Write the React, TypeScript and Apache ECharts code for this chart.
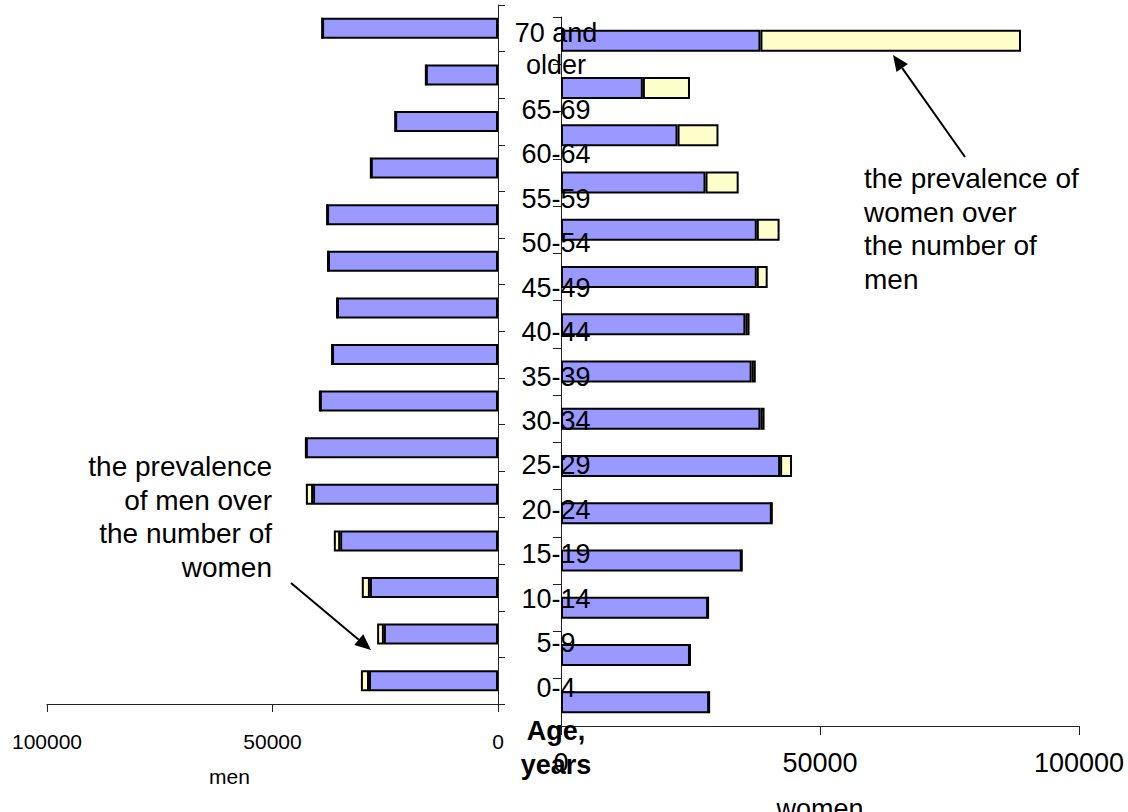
import React, { useEffect, useRef } from "react";
import * as echarts from "echarts";

// Age groups, bottom (youngest) to top (oldest)
const ageGroups = [
  "0-4", "5-9", "10-14", "15-19", "20-24", "25-29", "30-34", "35-39",
  "40-44", "45-49", "50-54", "55-59", "60-64", "65-69", "70 and\nolder",
];

// Men: part shared with women (blue) and the excess of men over women (cream)
const menCommon = [28600, 25300, 28400, 35000, 41000, 42600, 39500, 36800, 35700, 37700, 37900, 28200, 22800, 16000, 39000];
const menExcess = [1800, 1500, 1800, 1400, 1600, 0, 0, 0, 0, 0, 0, 0, 0, 0, 0];

// Women: part shared with men (blue) and the excess of women over men (cream)
const womenCommon = [28600, 24900, 28400, 34900, 40700, 42300, 38500, 36800, 35600, 37800, 37800, 27900, 22500, 15800, 38500];
const womenExcess = [0, 0, 0, 0, 0, 2300, 800, 800, 800, 2100, 4400, 6400, 7900, 9100, 50300];

// Value axis ticks
const axisMin = 0;
const axisMax = 100000;
const axisStep = 50000;

const menLabel = "men";
const womenLabel = "women";
const ageTitle = "Age,\nyears";
const noteMen = "the prevalence\nof men over\nthe number of\nwomen";
const noteWomen = "the prevalence of\nwomen over\nthe number of\nmen";

export default function App() {
  const ref = useRef<HTMLDivElement>(null);

  useEffect(() => {
    if (!ref.current) return;
    const chart = echarts.init(ref.current, null, { renderer: "svg" });
    const font = "'Liberation Sans', Arial, Helvetica, sans-serif";
    const blue = "#9999FF";
    const cream = "#FFFFCC";
    const lineCol = "#222";
    const plain = (v: number) => String(v);

    const barSeries = (
      name: string,
      data: number[],
      color: string,
      axis: number,
      stack: string,
      barWidth: number
    ) => ({
      name,
      type: "bar",
      xAxisIndex: axis,
      yAxisIndex: axis,
      stack,
      barWidth,
      data,
      itemStyle: { color, borderColor: "#000", borderWidth: 2 },
      z: 2,
    });

    // arrow helper: line from (x1,y1) to tip (x2,y2)
    const arrow = (x1: number, y1: number, x2: number, y2: number) => {
      const dx = x2 - x1;
      const dy = y2 - y1;
      const len = Math.sqrt(dx * dx + dy * dy);
      const ux = dx / len;
      const uy = dy / len;
      const hl = 16;
      const hw = 7;
      const bx = x2 - hl * ux;
      const by = y2 - hl * uy;
      const nx = -uy;
      const ny = ux;
      return [
        {
          type: "line",
          z: 100,
          shape: { x1, y1, x2: bx, y2: by },
          style: { stroke: "#000", lineWidth: 2 },
        },
        {
          type: "polygon",
          z: 100,
          shape: {
            points: [
              [x2, y2],
              [bx + hw * nx, by + hw * ny],
              [bx - hw * nx, by - hw * ny],
            ],
          },
          style: { fill: "#000" },
        },
      ];
    };

    chart.setOption({
      animation: false,
      backgroundColor: "#ffffff",
      textStyle: { fontFamily: font, color: "#000" },
      grid: [
        { left: 47, top: 5, width: 451, height: 699, containLabel: false, outerBoundsMode: "none" },
        { left: 561, top: 17, width: 518, height: 709, containLabel: false, outerBoundsMode: "none" },
        { left: 556, top: 43, width: 1, height: 667, containLabel: false, outerBoundsMode: "none" },
      ],
      xAxis: [
        {
          gridIndex: 0,
          type: "value",
          inverse: true,
          min: axisMin,
          max: axisMax,
          interval: axisStep,
          axisLine: { show: true, onZero: false, lineStyle: { color: lineCol, width: 1 } },
          axisTick: { show: true, length: 8, lineStyle: { color: lineCol } },
          splitLine: { show: false },
          axisLabel: { fontSize: 21, color: "#000", margin: 27, fontFamily: font, formatter: plain },
          name: menLabel,
          nameLocation: "middle",
          nameGap: 62,
          nameTextStyle: { fontSize: 21, color: "#000", fontFamily: font, padding: [0, 86, 0, 0] },
        },
        {
          gridIndex: 1,
          type: "value",
          min: axisMin,
          max: axisMax,
          interval: axisStep,
          axisLine: { show: true, onZero: false, lineStyle: { color: lineCol, width: 1 } },
          axisTick: { show: true, length: 9, lineStyle: { color: lineCol } },
          splitLine: { show: false },
          axisLabel: { fontSize: 27, color: "#000", margin: 23, fontFamily: font, formatter: plain },
          name: womenLabel,
          nameLocation: "middle",
          nameGap: 69,
          nameTextStyle: { fontSize: 27, color: "#000", fontFamily: font },
        },
        { gridIndex: 2, type: "value", show: false, min: 0, max: 1 },
      ],
      yAxis: [
        {
          gridIndex: 0,
          type: "category",
          data: ageGroups,
          position: "right",
          axisLine: { show: true, onZero: false, lineStyle: { color: lineCol, width: 1 } },
          axisTick: { show: true, length: 7, interval: 0, lineStyle: { color: lineCol } },
          axisLabel: { show: false },
          splitLine: { show: false },
        },
        {
          gridIndex: 1,
          type: "category",
          data: ageGroups,
          position: "left",
          axisLine: { show: true, onZero: false, lineStyle: { color: lineCol, width: 1 } },
          axisTick: { show: true, length: 8, interval: 0, lineStyle: { color: lineCol } },
          axisLabel: { show: false },
          splitLine: { show: false },
        },
        {
          gridIndex: 2,
          type: "category",
          data: ageGroups,
          position: "left",
          z: 10,
          axisLine: { show: false },
          axisTick: { show: false },
          splitLine: { show: false },
          axisLabel: {
            interval: 0,
            margin: 0,
            align: "center",
            verticalAlign: "middle",
            fontSize: 27,
            lineHeight: 32.5,
            color: "#000",
            fontFamily: font,
            formatter: (v: string) => (v.indexOf("\n") >= 0 ? v + "\n" : v),
          },
        },
      ],
      series: [
        barSeries("men common", menCommon, blue, 0, "men", 21),
        barSeries("men excess", menExcess, cream, 0, "men", 21),
        barSeries("women common", womenCommon, blue, 1, "women", 22),
        barSeries("women excess", womenExcess, cream, 1, "women", 22),
      ],
      graphic: [
        {
          type: "text",
          z: 100,
          x: 272,
          y: 517,
          style: {
            text: noteMen,
            fontSize: 28,
            fontFamily: font,
            fill: "#000",
            align: "right",
            verticalAlign: "middle",
            lineHeight: 33.7,
          },
        },
        {
          type: "text",
          z: 100,
          x: 864,
          y: 229,
          style: {
            text: noteWomen,
            fontSize: 28,
            fontFamily: font,
            fill: "#000",
            align: "left",
            verticalAlign: "middle",
            lineHeight: 33.7,
          },
        },
        {
          type: "text",
          z: 100,
          x: 556,
          y: 748,
          style: {
            text: ageTitle,
            fontSize: 27,
            fontWeight: "bold",
            fontFamily: font,
            fill: "#000",
            align: "center",
            verticalAlign: "middle",
            lineHeight: 34,
          },
        },
        ...arrow(291, 583, 371, 650),
        ...arrow(965, 157, 893, 55),
      ],
    });

    return () => chart.dispose();
  }, []);

  return (
    <div
      ref={ref}
      style={{ position: "absolute", left: 0, top: 0, width: 1128, height: 812 }}
    />
  );
}
